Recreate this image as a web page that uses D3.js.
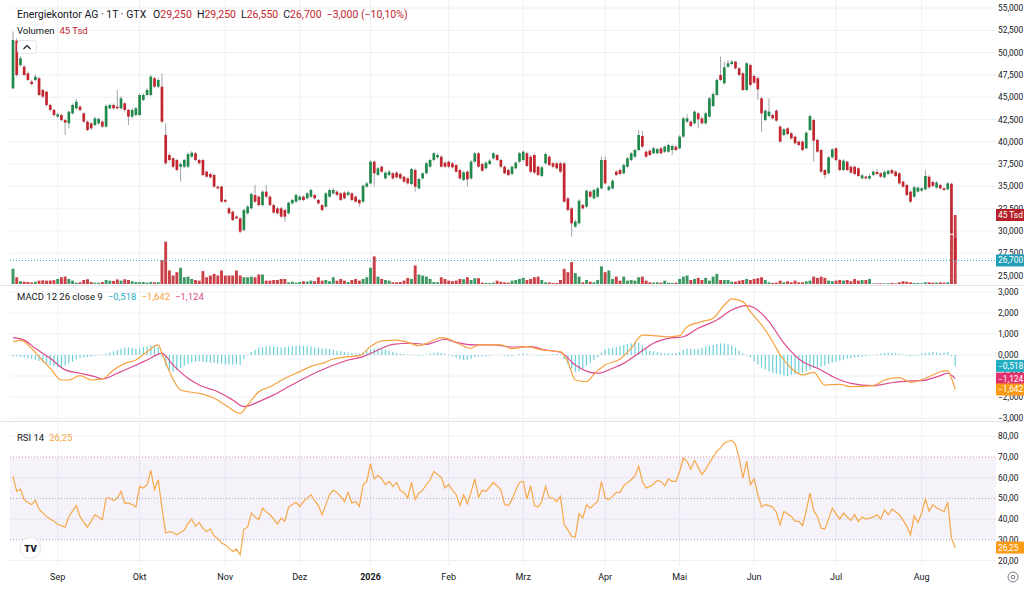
<!DOCTYPE html>
<html>
<head>
<meta charset="utf-8">
<script src="https://cdn.jsdelivr.net/npm/d3@7"></script>
<style>
  html, body { margin: 0; padding: 0; background: #fff; }
  svg { display: block; font-family: Roboto, "Liberation Sans", sans-serif; }
</style>
</head>
<body>
<svg id="chart" width="1024" height="590"></svg>
<script>
// Daily candles, 14 Aug 2025 .. 13 Aug 2026 (EUR)
const opens = [
  45.99, 51.34, 48.61, 48.42, 47.68, 46.74, 46.93, 47.12, 45.81, 45.62,
  44.13, 43.57, 42.82, 43.00, 42.44, 42.07, 43.19, 43.75, 43.94, 43.19,
  42.26, 42.07, 41.88, 42.07, 42.26, 41.70, 43.75, 44.13, 43.94, 43.75,
  44.31, 43.57, 42.82, 43.00, 43.00, 44.69, 45.25, 45.25, 47.12, 46.18,
  46.18, 40.76, 38.52, 38.15, 37.96, 37.21, 37.21, 37.21, 38.33, 38.71,
  37.96, 37.96, 36.65, 36.39, 36.28, 34.97, 34.97, 33.48, 32.54, 32.17,
  31.61, 31.42, 30.11, 31.98, 32.54, 34.04, 33.85, 32.91, 34.41, 33.85,
  32.91, 32.54, 32.54, 32.35, 31.98, 33.10, 33.29, 33.48, 33.85, 33.66,
  33.85, 34.04, 33.48, 32.91, 32.73, 33.85, 34.22, 34.41, 34.22, 34.30,
  34.04, 34.22, 33.85, 33.48, 33.29, 34.97, 35.34, 37.77, 36.28, 37.21,
  35.90, 36.28, 36.47, 36.54, 36.39, 36.09, 35.90, 35.27, 36.84, 34.78,
  35.90, 36.47, 37.21, 37.96, 38.26, 38.33, 37.66, 37.77, 37.59, 37.40,
  36.84, 35.72, 36.65, 35.90, 37.77, 38.71, 37.51, 37.03, 37.51, 38.15,
  38.52, 37.96, 37.21, 36.84, 36.39, 37.03, 37.77, 37.96, 38.71, 38.33,
  38.52, 37.21, 36.17, 37.59, 38.33, 37.59, 37.59, 37.59, 37.59, 33.66,
  32.54, 30.49, 30.86, 32.91, 32.73, 34.41, 33.66, 33.85, 34.78, 37.96,
  34.60, 34.78, 36.65, 36.84, 36.47, 37.21, 37.96, 38.33, 39.08, 40.65,
  38.89, 39.00, 38.71, 38.71, 39.27, 38.89, 38.89, 39.08, 39.46, 39.27,
  40.58, 42.26, 42.26, 42.07, 43.19, 42.63, 42.07, 42.82, 44.01, 45.25,
  47.49, 46.56, 48.42, 48.72, 48.98, 48.24, 47.68, 45.81, 48.61, 47.38,
  47.12, 44.87, 42.44, 42.89, 43.00, 43.49, 41.70, 40.76, 41.51, 40.95,
  40.58, 40.02, 40.02, 39.27, 41.32, 42.44, 40.21, 39.08, 36.84, 36.47,
  38.26, 39.27, 37.96, 36.84, 37.77, 37.21, 37.21, 37.03, 35.90, 36.09,
  35.87, 36.28, 36.62, 36.47, 36.02, 36.39, 36.84, 36.65, 36.47, 35.53,
  35.16, 34.41, 33.85, 34.41, 34.52, 34.67, 36.09, 35.49, 34.86, 35.16,
  34.78, 34.67, 35.30, 29.25
];
const highs = [
  52.35, 51.60, 49.60, 48.60, 47.85, 46.95, 47.55, 47.30, 45.95, 45.70,
  44.30, 43.70, 43.30, 43.15, 42.60, 43.50, 44.30, 44.80, 44.10, 43.30,
  42.40, 42.20, 42.80, 42.75, 42.40, 44.20, 44.30, 44.30, 45.81, 45.10,
  44.45, 43.70, 43.75, 43.90, 45.40, 45.45, 46.00, 47.50, 47.30, 47.10,
  47.68, 42.07, 38.70, 38.30, 38.10, 37.70, 38.10, 38.80, 38.95, 38.85,
  38.10, 38.10, 36.80, 36.55, 36.40, 35.10, 35.10, 33.60, 32.70, 32.30,
  31.75, 31.55, 32.50, 32.90, 34.30, 35.16, 34.00, 34.55, 35.16, 34.00,
  33.05, 32.70, 32.70, 32.50, 33.30, 33.60, 34.20, 34.00, 34.00, 34.35,
  34.75, 34.20, 33.60, 33.05, 34.35, 34.75, 34.80, 34.55, 34.35, 34.45,
  34.50, 34.35, 34.00, 33.60, 35.20, 35.50, 37.95, 37.90, 37.20, 37.35,
  36.70, 36.85, 36.60, 36.70, 36.55, 36.20, 36.05, 37.10, 37.00, 36.00,
  36.60, 37.75, 38.10, 38.85, 38.70, 38.50, 37.80, 37.90, 37.75, 37.55,
  37.00, 36.75, 36.80, 37.95, 38.85, 38.85, 37.65, 37.80, 38.05, 38.85,
  38.65, 38.10, 37.35, 37.00, 37.35, 37.80, 38.85, 39.05, 38.90, 38.50,
  38.70, 37.35, 37.30, 38.80, 38.50, 37.75, 37.75, 37.75, 37.75, 33.80,
  32.70, 31.25, 33.55, 33.05, 34.65, 34.55, 34.75, 34.95, 38.35, 38.35,
  35.15, 35.80, 36.80, 37.00, 37.55, 38.30, 38.85, 39.25, 41.32, 41.20,
  39.05, 39.15, 39.45, 39.35, 39.45, 39.60, 39.80, 39.70, 39.60, 40.75,
  42.80, 43.10, 42.40, 43.55, 43.35, 42.80, 43.35, 45.05, 45.55, 47.10,
  49.55, 48.98, 49.17, 49.15, 49.10, 48.40, 47.85, 48.95, 48.75, 47.55,
  47.30, 45.00, 43.65, 44.87, 43.15, 43.65, 41.85, 41.55, 41.65, 41.10,
  40.70, 40.15, 40.15, 41.15, 43.05, 42.60, 40.35, 39.20, 36.95, 38.40,
  39.30, 39.40, 38.10, 38.05, 37.90, 37.35, 37.35, 37.15, 36.40, 36.20,
  36.40, 36.80, 36.95, 36.60, 36.80, 36.90, 36.95, 36.80, 36.60, 35.65,
  35.30, 34.55, 35.05, 35.00, 34.95, 36.84, 36.25, 35.65, 35.60, 35.30,
  34.90, 35.50, 35.40, 29.25
];
const lows = [
  45.90, 47.30, 48.40, 47.35, 46.80, 46.30, 46.80, 45.10, 44.90, 43.95,
  43.40, 42.85, 42.65, 42.30, 40.76, 41.50, 43.05, 43.60, 43.40, 42.10,
  41.20, 41.35, 41.75, 41.90, 41.55, 41.60, 43.60, 43.60, 43.60, 43.60,
  43.40, 41.88, 42.65, 42.85, 42.90, 44.55, 45.10, 45.10, 46.00, 46.00,
  42.10, 37.40, 37.80, 37.05, 36.70, 35.53, 37.05, 37.05, 38.20, 37.80,
  37.45, 36.15, 35.95, 35.90, 34.85, 34.65, 33.15, 33.15, 31.85, 31.10,
  31.30, 29.74, 29.95, 31.85, 32.40, 33.15, 32.75, 32.75, 33.70, 32.75,
  31.95, 31.85, 31.50, 31.05, 31.85, 32.95, 33.15, 33.35, 33.35, 33.55,
  33.70, 33.55, 32.95, 32.20, 32.60, 33.70, 34.10, 33.90, 33.35, 33.55,
  33.90, 33.35, 33.15, 32.73, 33.15, 34.85, 35.20, 34.97, 36.15, 36.50,
  35.75, 36.15, 35.75, 35.90, 35.75, 35.40, 35.20, 35.15, 34.41, 34.65,
  35.75, 36.35, 37.10, 37.80, 38.10, 37.10, 37.05, 37.05, 37.00, 36.50,
  35.75, 35.60, 34.97, 35.75, 37.65, 37.05, 36.60, 36.90, 37.40, 38.00,
  37.80, 37.05, 36.35, 36.15, 36.25, 36.90, 37.65, 37.80, 37.15, 36.50,
  36.40, 36.15, 36.05, 37.45, 37.25, 37.05, 36.90, 36.50, 33.15, 32.20,
  29.37, 30.35, 30.70, 32.40, 32.60, 33.70, 33.55, 33.70, 34.65, 35.20,
  34.45, 34.65, 36.15, 36.25, 36.35, 37.10, 37.80, 38.20, 38.95, 39.30,
  38.20, 38.40, 38.60, 38.60, 38.60, 38.75, 38.75, 38.50, 38.95, 39.15,
  40.45, 42.10, 41.65, 41.95, 41.51, 41.95, 41.95, 42.70, 43.90, 45.10,
  46.80, 46.40, 48.30, 48.60, 48.10, 47.35, 45.70, 45.70, 46.20, 46.50,
  44.69, 41.14, 42.30, 42.75, 42.50, 42.25, 39.90, 40.65, 40.75, 40.25,
  39.70, 39.50, 38.95, 39.15, 41.20, 37.77, 38.75, 36.50, 35.90, 36.35,
  38.10, 37.80, 36.70, 36.70, 36.70, 36.40, 36.25, 36.05, 35.80, 35.80,
  35.75, 36.15, 36.25, 35.95, 35.90, 36.25, 36.35, 36.05, 35.20, 34.85,
  33.90, 33.15, 33.70, 34.30, 34.40, 34.55, 34.75, 34.90, 34.75, 34.65,
  34.50, 34.55, 29.60, 26.55
];
const closes = [
  51.41, 47.49, 49.36, 47.49, 46.93, 46.48, 47.30, 45.25, 45.06, 44.13,
  43.57, 43.00, 43.08, 42.44, 42.15, 43.38, 44.13, 44.50, 43.57, 42.26,
  41.32, 41.51, 42.63, 42.56, 41.70, 44.01, 44.13, 43.75, 43.75, 44.87,
  43.57, 42.82, 43.57, 43.75, 45.25, 45.25, 45.81, 47.30, 46.18, 46.93,
  42.26, 37.59, 37.96, 37.21, 36.84, 37.51, 37.96, 38.63, 38.78, 37.96,
  37.59, 36.28, 36.09, 36.02, 34.97, 34.78, 33.29, 33.29, 31.98, 31.23,
  31.42, 29.93, 32.35, 32.73, 34.15, 33.29, 32.91, 34.41, 33.85, 32.91,
  32.06, 31.98, 31.61, 31.61, 33.18, 33.48, 34.04, 33.85, 33.48, 34.22,
  34.60, 33.66, 33.10, 32.35, 34.22, 34.60, 34.60, 34.04, 33.48, 33.66,
  34.33, 33.48, 33.29, 33.10, 35.08, 35.34, 37.77, 36.47, 37.03, 36.65,
  36.54, 36.65, 35.90, 36.02, 35.90, 35.53, 35.34, 36.95, 34.97, 35.83,
  36.47, 37.59, 37.96, 38.71, 38.52, 37.21, 37.21, 37.21, 37.14, 36.65,
  35.90, 36.58, 35.79, 37.77, 38.71, 37.21, 36.76, 37.66, 37.89, 38.71,
  37.96, 37.21, 36.47, 36.28, 37.21, 37.66, 38.71, 38.89, 37.29, 36.65,
  36.54, 36.28, 37.14, 38.63, 37.40, 37.21, 37.03, 36.65, 33.29, 32.35,
  30.86, 31.05, 33.40, 32.54, 34.52, 33.85, 34.60, 34.78, 37.96, 35.34,
  34.97, 35.64, 36.28, 36.39, 37.40, 38.15, 38.71, 39.08, 40.76, 39.46,
  38.33, 38.52, 39.27, 39.19, 38.71, 39.46, 39.64, 39.53, 39.08, 40.58,
  42.63, 42.63, 41.77, 43.38, 42.52, 42.07, 43.19, 44.87, 45.36, 46.93,
  46.93, 48.35, 48.80, 48.98, 48.24, 47.49, 45.81, 48.80, 46.37, 46.63,
  45.88, 43.19, 43.49, 43.38, 42.63, 42.37, 40.02, 41.40, 40.87, 40.39,
  39.83, 39.64, 39.08, 41.02, 42.89, 40.13, 38.89, 36.65, 36.28, 38.26,
  39.15, 37.96, 36.84, 37.89, 36.84, 36.54, 36.39, 36.17, 36.24, 35.90,
  36.17, 36.65, 36.39, 36.09, 36.62, 36.76, 36.47, 36.17, 35.34, 34.97,
  34.04, 33.29, 34.90, 34.86, 34.78, 36.17, 34.90, 35.05, 35.42, 34.78,
  34.60, 35.34, 29.70, 26.70
];
// volume in thousands of shares
const volumesTsd = [
  10, 4.4, 1.8, 1.5, 1.3, 1.0, 1.5, 2.2, 2.4, 2.2,
  2.3, 2.5, 3.3, 4.4, 4.8, 3.3, 2.2, 0.9, 1.1, 2.6,
  3.1, 1.3, 0.9, 0.8, 1.3, 2.6, 2.2, 2.0, 3.0, 2.2,
  3.1, 2.6, 1.8, 1.3, 1.2, 1.3, 0.9, 1.3, 1.1, 1.2,
  15.5, 27.6, 8.8, 5.5, 7.7, 10.6, 4.4, 4.8, 3.3, 2.6,
  2.2, 8.4, 4.4, 5.5, 6.6, 5.5, 8.8, 5.5, 5.5, 5.5,
  8.8, 5.5, 4.4, 4.4, 4.8, 4.4, 6.2, 6.2, 2.2, 2.2,
  2.6, 2.6, 3.3, 3.3, 1.1, 1.5, 0.9, 1.3, 1.8, 1.5,
  2.2, 1.8, 4.4, 2.2, 2.6, 1.8, 4.4, 2.2, 3.3, 2.2,
  1.3, 2.6, 3.3, 2.2, 3.3, 4.4, 10.6, 18, 4.8, 3.3,
  2.6, 2.2, 1.1, 1.1, 1.3, 2.2, 4.0, 3.3, 12.1, 6.2,
  5.5, 4.8, 3.3, 1.3, 1.1, 4.4, 3.3, 2.2, 1.8, 2.2,
  3.3, 3.1, 4.4, 2.6, 3.8, 3.8, 0.9, 0.7, 0.7, 0.9,
  2.2, 1.5, 1.1, 0.9, 2.2, 2.6, 3.3, 4.0, 2.6, 3.3,
  4.4, 4.8, 2.6, 1.1, 1.1, 0.7, 0.7, 2.6, 9.9, 7.7,
  14.3, 7.1, 4.8, 1.1, 2.6, 1.5, 1.1, 2.6, 11.5, 7.7,
  8.8, 3.3, 4.8, 2.2, 4.8, 2.2, 2.6, 2.2, 4.4, 4.8,
  2.2, 1.1, 0.9, 1.1, 0.9, 2.2, 0.9, 0.7, 0.9, 3.3,
  4.8, 5.5, 2.6, 3.3, 4.0, 2.6, 4.0, 2.2, 4.8, 6.6,
  2.6, 2.6, 2.6, 1.5, 1.5, 2.2, 2.6, 3.3, 2.6, 3.3,
  3.8, 4.4, 2.6, 1.1, 0.7, 0.9, 2.2, 1.1, 1.8, 1.1,
  2.2, 1.1, 1.1, 1.8, 2.2, 4.8, 4.0, 4.8, 4.0, 2.2,
  1.8, 2.2, 2.6, 2.2, 2.6, 1.8, 3.3, 2.2, 2.6, 2.6,
  3.3, 0.4, 0.4, 0.5, 0.4, 0.5, 0.7, 0.4, 1.1, 1.8,
  1.5, 1.1, 0.7, 0.7, 0.5, 1.1, 1.1, 0.9, 0.9, 1.1,
  0.9, 1.1, 32, 45
];
// MACD 12 26 9: [bar index, value]
const macdPoints = [
  [0, 0.63], [2, 0.71], [5, 0.32], [7, -0.08], [10, -0.63], [13, -1.19], [15, -1.19], [18, -0.98],
  [21, -1.19], [24, -1.14], [27, -0.71], [30, -0.40], [33, -0.24], [36, 0.16], [39, 0.48], [40, 0.08],
  [42, -0.79], [45, -1.67], [47, -1.75], [50, -1.83], [54, -2.06], [57, -2.38], [61, -2.78], [63, -2.38],
  [66, -1.75], [69, -1.51], [73, -1.11], [77, -0.79], [81, -0.48], [83, -0.40], [86, -0.19], [90, -0.08],
  [93, -0.03], [96, 0.40], [99, 0.67], [103, 0.71], [106, 0.60], [109, 0.44], [112, 0.63], [115, 0.83],
  [117, 0.76], [120, 0.51], [123, 0.32], [125, 0.48], [131, 0.48], [134, 0.30], [138, 0.40], [142, 0.24],
  [147, 0.16], [149, -0.32], [151, -1.19], [154, -1.27], [156, -0.92], [159, -0.48], [163, -0.19], [166, 0.32],
  [169, 0.95], [172, 0.92], [176, 0.87], [179, 0.92], [181, 1.35], [185, 1.59], [188, 1.75], [191, 2.38],
  [193, 2.67], [196, 2.54], [198, 2.06], [201, 1.43], [204, 0.63], [206, 0.00], [209, -0.63], [212, -0.95],
  [215, -0.83], [218, -1.43], [222, -1.40], [225, -1.51], [231, -1.46], [234, -1.19], [238, -1.08], [241, -1.30],
  [245, -1.11], [248, -0.87], [250, -0.76], [251, -0.76], [252, -1.11], [253, -1.642]
];
const signalPoints = [
  [0, 0.83], [3, 0.71], [6, 0.32], [10, -0.16], [14, -0.71], [18, -0.87], [22, -1.03], [24, -1.14],
  [28, -0.87], [32, -0.56], [36, -0.24], [40, 0.08], [43, -0.48], [47, -1.11], [50, -1.43], [55, -1.75],
  [59, -2.14], [62, -2.46], [66, -2.22], [70, -1.90], [74, -1.51], [80, -0.95], [84, -0.63], [90, -0.24],
  [94, -0.08], [98, 0.24], [102, 0.51], [107, 0.56], [111, 0.51], [116, 0.75], [119, 0.60], [124, 0.48],
  [129, 0.48], [134, 0.38], [139, 0.40], [143, 0.24], [147, 0.13], [151, -0.48], [155, -0.83], [157, -0.87],
  [161, -0.63], [164, -0.40], [168, 0.08], [172, 0.56], [176, 0.79], [180, 0.87], [184, 1.27], [189, 1.67],
  [193, 2.14], [197, 2.35], [199, 2.25], [203, 1.59], [207, 0.56], [212, -0.32], [216, -0.63], [221, -1.11],
  [225, -1.35], [231, -1.46], [235, -1.35], [240, -1.24], [244, -1.22], [249, -0.98], [251, -0.87], [253, -1.124]
];
const histValues = [
  -0.05, -0.06, -0.08, -0.12, -0.15, -0.18, -0.22, -0.28, -0.35, -0.42,
  -0.48, -0.52, -0.58, -0.60, -0.50, -0.40, -0.32, -0.22, -0.15, -0.12,
  -0.10, -0.08, -0.05, -0.02, 0.02, 0.06, 0.12, 0.18, 0.24, 0.30,
  0.34, 0.36, 0.33, 0.30, 0.32, 0.38, 0.42, 0.46, 0.44, 0.38,
  -0.10, -0.50, -0.72, -0.80, -0.72, -0.62, -0.50, -0.42, -0.35, -0.32,
  -0.30, -0.32, -0.34, -0.36, -0.38, -0.40, -0.42, -0.44, -0.45, -0.46,
  -0.45, -0.48, -0.20, -0.02, 0.15, 0.25, 0.34, 0.38, 0.40, 0.42,
  0.40, 0.38, 0.36, 0.37, 0.40, 0.42, 0.44, 0.45, 0.44, 0.42,
  0.40, 0.36, 0.34, 0.30, 0.32, 0.28, 0.24, 0.20, 0.18, 0.15,
  0.12, 0.10, 0.08, 0.06, 0.10, 0.18, 0.28, 0.30, 0.32, 0.28,
  0.24, 0.20, 0.16, 0.10, 0.06, 0.04, 0.02, 0.02, -0.02, -0.04,
  -0.02, 0.02, 0.06, 0.10, 0.12, 0.10, 0.06, 0.02, -0.06, -0.14,
  -0.20, -0.24, -0.22, -0.18, -0.10, -0.06, -0.08, -0.06, -0.04, 0.00,
  0.02, 0.00, -0.04, -0.06, -0.04, 0.00, 0.04, 0.06, 0.05, 0.02,
  0.00, -0.02, -0.04, -0.02, 0.02, 0.04, 0.06, 0.04, -0.20, -0.45,
  -0.65, -0.80, -0.78, -0.65, -0.50, -0.40, -0.25, -0.10, 0.12, 0.28,
  0.32, 0.35, 0.38, 0.42, 0.48, 0.52, 0.55, 0.60, 0.58, 0.45,
  0.30, 0.20, 0.16, 0.14, 0.10, 0.08, 0.10, 0.08, 0.10, 0.14,
  0.25, 0.30, 0.30, 0.28, 0.28, 0.34, 0.40, 0.44, 0.48, 0.52,
  0.55, 0.56, 0.52, 0.45, 0.35, 0.20, 0.08, 0.02, -0.12, -0.30,
  -0.45, -0.60, -0.70, -0.78, -0.85, -0.90, -0.95, -0.98, -1.00, -0.95,
  -0.92, -0.88, -0.85, -0.78, -0.70, -0.62, -0.58, -0.55, -0.50, -0.42,
  -0.36, -0.30, -0.26, -0.22, -0.18, -0.15, -0.12, -0.10, -0.08, -0.05,
  -0.03, 0.00, 0.04, 0.08, 0.10, 0.12, 0.12, 0.10, 0.06, 0.02,
  -0.04, -0.06, -0.04, -0.02, 0.06, 0.10, 0.12, 0.14, 0.12, 0.10,
  0.12, 0.14, -0.05, -0.518
];
const rsiValues = [
  60.6, 53.4, 54.5, 49.4, 48.0, 47.0, 49.0, 44.8, 43.0, 41.3,
  40.0, 38.9, 37.5, 36.8, 36.1, 41.3, 44.0, 46.5, 41.3, 38.5,
  36.1, 39.0, 42.1, 41.0, 39.7, 50.2, 50.2, 49.0, 50.0, 53.4,
  47.7, 47.7, 47.0, 45.8, 55.8, 55.0, 56.6, 63.5, 54.2, 59.0,
  45.3, 33.2, 34.0, 33.5, 32.4, 33.5, 34.8, 38.0, 40.0, 36.5,
  38.4, 35.5, 34.0, 35.2, 31.9, 30.5, 28.4, 27.6, 26.0, 24.4,
  25.5, 22.7, 35.2, 36.1, 42.9, 41.0, 39.7, 45.3, 43.5, 42.1,
  40.0, 37.7, 40.5, 38.9, 45.8, 47.0, 48.1, 46.1, 48.5, 50.0,
  51.8, 49.0, 46.5, 42.1, 47.0, 51.8, 53.9, 52.9, 51.0, 48.5,
  52.9, 47.7, 48.5, 46.1, 56.6, 58.2, 66.8, 59.4, 61.0, 59.5,
  56.6, 58.2, 55.8, 57.7, 53.9, 52.9, 50.2, 57.7, 49.4, 52.6,
  54.0, 56.6, 59.0, 63.0, 61.5, 60.3, 55.0, 56.6, 54.0, 51.8,
  46.5, 51.8, 47.4, 53.0, 59.4, 50.6, 53.9, 53.4, 55.5, 57.7,
  56.0, 54.2, 47.0, 46.5, 49.4, 54.0, 57.7, 58.2, 49.7, 56.1,
  46.5, 45.8, 48.5, 55.8, 50.2, 50.2, 48.5, 51.0, 37.3, 34.8,
  31.6, 31.3, 42.6, 40.5, 47.0, 45.3, 47.0, 48.5, 58.2, 50.2,
  49.4, 51.0, 52.9, 52.9, 56.1, 57.5, 59.0, 61.0, 65.5, 58.2,
  55.0, 55.8, 57.0, 58.7, 58.2, 56.1, 59.4, 58.2, 58.2, 63.0,
  69.5, 67.9, 64.2, 68.4, 65.0, 61.5, 64.0, 67.1, 70.0, 72.7,
  74.4, 76.8, 77.5, 78.1, 76.0, 69.5, 59.8, 67.9, 56.6, 59.4,
  52.0, 45.8, 47.0, 46.5, 45.8, 43.2, 37.3, 43.7, 42.5, 41.3,
  38.9, 38.9, 36.8, 44.0, 52.6, 44.2, 41.3, 35.6, 35.2, 40.0,
  45.3, 42.5, 40.0, 42.9, 41.0, 39.4, 42.1, 38.9, 41.0, 40.0,
  40.5, 41.0, 42.1, 40.0, 44.5, 42.1, 44.8, 43.5, 42.1, 39.5,
  36.5, 32.4, 41.6, 38.4, 42.9, 49.7, 43.7, 47.0, 45.5, 44.5,
  43.7, 48.1, 30.8, 26.25
];
// x axis: first trading day of each month
const monthLabels = ["Sep", "Okt", "Nov", "Dez", "2026", "Feb", "Mrz", "Apr", "Mai", "Jun", "Jul", "Aug"];
const monthStarts = [12, 34, 57, 77, 96, 117, 137, 159, 179, 199, 221, 244];
const priceTicks = [55, 52.5, 50, 47.5, 45, 42.5, 40, 37.5, 35, 32.5, 30, 27.5, 25];
const macdTicks = [3, 2, 1, 0, -1, -2, -3];
const rsiTicks = [80, 70, 60, 50, 40, 30, 20];

const upColor = "#22894c";
const downColor = "#c3262e";
const wickColor = "#a0a4aa";
const gridColor = "#eef0f4";
const textColor = "#131722";
const macdColor = "#f6a240";
const signalColor = "#dc4a90";
const histColor = "#6ccfdc";
const rsiColor = "#f6a84a";

const plotL = 10, plotR = 996;
const last = closes.length - 1;
const bars = d3.range(closes.length);

const de = d3.formatLocale({ decimal: ",", thousands: ".", grouping: [3], currency: ["", ""], minus: "\u2212" });
const f3 = de.format(".3f");
const f2 = de.format(".2f");

const svg = d3.select("#chart");

const x = d3.scaleLinear().domain([0, last]).range([13, 955.2]);
const yPrice = d3.scaleLinear().domain([25, 55]).range([275.6, 8]);
const yVol = d3.scaleLinear().domain([0, 45]).range([284, 215]);
const yMacd = d3.scaleLinear().domain([-3, 3]).range([418, 292]);
const yRsi = d3.scaleLinear().domain([20, 80]).range([560.5, 436.3]);

const isUp = (i) => closes[i] >= opens[i];

// vertical grid through all panes
svg.append("g")
  .selectAll("line")
  .data(monthStarts)
  .enter().append("line")
  .attr("x1", (d) => x(d)).attr("x2", (d) => x(d))
  .attr("y1", 0).attr("y2", 566)
  .attr("stroke", gridColor);

// horizontal grids
const hGrid = (ticks, scale) => {
  svg.append("g")
    .selectAll("line")
    .data(ticks)
    .enter().append("line")
    .attr("x1", plotL).attr("x2", plotR)
    .attr("y1", (d) => scale(d)).attr("y2", (d) => scale(d))
    .attr("stroke", gridColor);
};
hGrid(priceTicks, yPrice);
hGrid(macdTicks, yMacd);
hGrid([80, 60, 40, 20], yRsi);

// pane separators
svg.append("g")
  .selectAll("line")
  .data([285.5, 421.5])
  .enter().append("line")
  .attr("x1", 0).attr("x2", 1024)
  .attr("y1", (d) => d).attr("y2", (d) => d)
  .attr("stroke", "#e2e4ea");

// ---- price pane ----
const gPrice = svg.append("g");

gPrice.append("g")
  .selectAll("rect")
  .data(bars)
  .enter().append("rect")
  .attr("x", (i) => x(i) - 1.45)
  .attr("width", 2.9)
  .attr("y", (i) => yVol(volumesTsd[i]))
  .attr("height", (i) => yVol(0) - yVol(volumesTsd[i]))
  .attr("fill", (i) => isUp(i) ? upColor : downColor)
  .attr("opacity", 0.88);

const candle = gPrice.append("g")
  .selectAll("g")
  .data(bars)
  .enter().append("g");

candle.append("line")
  .attr("x1", (i) => x(i)).attr("x2", (i) => x(i))
  .attr("y1", (i) => yPrice(highs[i]))
  .attr("y2", (i) => yPrice(lows[i]))
  .attr("stroke", wickColor);

candle.append("rect")
  .attr("x", (i) => x(i) - 1.35)
  .attr("width", 2.7)
  .attr("y", (i) => yPrice(Math.max(opens[i], closes[i])))
  .attr("height", (i) => Math.max(1, Math.abs(yPrice(opens[i]) - yPrice(closes[i]))))
  .attr("fill", (i) => isUp(i) ? upColor : downColor);

// last price line
gPrice.append("line")
  .attr("x1", plotL).attr("x2", plotR)
  .attr("y1", yPrice(closes[last])).attr("y2", yPrice(closes[last]))
  .attr("stroke", "#2aa3bb")
  .attr("stroke-dasharray", "1,2");

// ---- MACD pane ----
const gMacd = svg.append("g");

gMacd.append("g")
  .selectAll("rect")
  .data(bars)
  .enter().append("rect")
  .attr("x", (i) => x(i) - 0.6)
  .attr("width", 1.2)
  .attr("y", (i) => Math.min(yMacd(0), yMacd(histValues[i])))
  .attr("height", (i) => Math.abs(yMacd(histValues[i]) - yMacd(0)))
  .attr("fill", histColor);

const lineGen = (scale) => d3.line()
  .x((d) => x(d[0]))
  .y((d) => scale(d[1]))
  .curve(d3.curveMonotoneX);

gMacd.append("path")
  .datum(signalPoints)
  .attr("d", lineGen(yMacd))
  .attr("fill", "none")
  .attr("stroke", signalColor)
  .attr("stroke-width", 1.2);

gMacd.append("path")
  .datum(macdPoints)
  .attr("d", lineGen(yMacd))
  .attr("fill", "none")
  .attr("stroke", macdColor)
  .attr("stroke-width", 1.2);

// ---- RSI pane ----
const gRsi = svg.append("g");

gRsi.append("rect")
  .attr("x", plotL).attr("width", plotR - plotL)
  .attr("y", yRsi(70)).attr("height", yRsi(30) - yRsi(70))
  .attr("fill", "#7e57c2")
  .attr("opacity", 0.08);

gRsi.append("g")
  .selectAll("line")
  .data([70, 50, 30])
  .enter().append("line")
  .attr("x1", plotL).attr("x2", plotR)
  .attr("y1", (d) => yRsi(d)).attr("y2", (d) => yRsi(d))
  .attr("stroke", (d) => d === 70 ? "#d99aaa" : "#a4a7b0")
  .attr("stroke-dasharray", "1,2");

gRsi.append("path")
  .datum(rsiValues)
  .attr("d", d3.line().x((d, i) => x(i)).y((d) => yRsi(d)))
  .attr("fill", "none")
  .attr("stroke", rsiColor)
  .attr("stroke-width", 1.2);

// ---- right axis labels ----
const axisLabels = (ticks, scale, fmt) => {
  svg.append("g")
    .selectAll("text")
    .data(ticks)
    .enter().append("text")
    .attr("x", 998)
    .attr("y", (d) => scale(d) + 3)
    .attr("font-size", 8.4)
    .attr("fill", textColor)
    .text((d) => fmt(d));
};
axisLabels(priceTicks, yPrice, f3);
axisLabels(macdTicks, yMacd, f3);
axisLabels(rsiTicks, yRsi, f2);

const tag = (yc, label, fill) => {
  svg.append("rect")
    .attr("x", 996).attr("y", yc - 6)
    .attr("width", 28).attr("height", 12)
    .attr("fill", fill);
  svg.append("text")
    .attr("x", 998).attr("y", yc + 3)
    .attr("font-size", 8.4)
    .attr("fill", "#fff")
    .text(label);
};
tag(yVol(volumesTsd[last]), `${volumesTsd[last]} Tsd`, "#b5202a");
tag(yPrice(closes[last]), f3(closes[last]), "#1f9db6");
tag(yMacd(histValues[last]), f3(histValues[last]), "#22adc2");
tag(yMacd(signalPoints[signalPoints.length - 1][1]), f3(signalPoints[signalPoints.length - 1][1]), "#e2306f");
tag(yMacd(macdPoints[macdPoints.length - 1][1]), f3(macdPoints[macdPoints.length - 1][1]), "#fb9a14");
tag(yRsi(rsiValues[last]), f2(rsiValues[last]), "#fb9a14");

// ---- x axis ----
svg.append("g")
  .selectAll("text")
  .data(monthStarts)
  .enter().append("text")
  .attr("x", (d) => x(d))
  .attr("y", 580)
  .attr("text-anchor", "middle")
  .attr("font-size", 9)
  .attr("font-weight", (d, i) => monthLabels[i] === "2026" ? "bold" : "normal")
  .attr("fill", textColor)
  .text((d, i) => monthLabels[i]);

// ---- legends ----
const red = "#c3262e";
const change = closes[last] - closes[last - 1];
const pct = change / closes[last - 1] * 100;

const header = svg.append("text")
  .attr("x", 17).attr("y", 18)
  .attr("font-size", 10.5)
  .attr("fill", textColor);
header.append("tspan").text("Energiekontor AG \u00b7 1T \u00b7 GTX");
[["O", opens[last]], ["H", highs[last]], ["L", lows[last]], ["C", closes[last]]].forEach((d, k) => {
  header.append("tspan").attr("dx", k === 0 ? 7 : 5).text(d[0]);
  header.append("tspan").attr("fill", red).text(f3(d[1]));
});
header.append("tspan").attr("dx", 5).attr("fill", red)
  .text(`${f3(change)} (${f2(pct)}%)`);

const volLegend = svg.append("text")
  .attr("x", 17).attr("y", 34)
  .attr("font-size", 9.5)
  .attr("fill", textColor);
volLegend.append("tspan").text("Volumen");
volLegend.append("tspan").attr("dx", 5).attr("fill", red).text(`${volumesTsd[last]} Tsd`);

const macdLegend = svg.append("text")
  .attr("x", 17).attr("y", 300)
  .attr("font-size", 9.5)
  .attr("fill", textColor);
macdLegend.append("tspan").text("MACD 12 26 close 9");
macdLegend.append("tspan").attr("dx", 5).attr("fill", "#22adc2").text(f3(histValues[last]));
macdLegend.append("tspan").attr("dx", 5).attr("fill", macdColor).text(f3(macdPoints[macdPoints.length - 1][1]));
macdLegend.append("tspan").attr("dx", 5).attr("fill", signalColor).text(f3(signalPoints[signalPoints.length - 1][1]));

const rsiLegend = svg.append("text")
  .attr("x", 17).attr("y", 441)
  .attr("font-size", 9.5)
  .attr("fill", textColor);
rsiLegend.append("tspan").text("RSI 14");
rsiLegend.append("tspan").attr("dx", 5).attr("fill", rsiColor).text(f2(rsiValues[last]));

// collapse button
svg.append("rect")
  .attr("x", 17.5).attr("y", 40.5).attr("width", 19).attr("height", 13).attr("rx", 3)
  .attr("fill", "#fff").attr("stroke", "#e0e3eb");
svg.append("path")
  .attr("d", "M23.5 49 L27 45.5 L30.5 49")
  .attr("fill", "none").attr("stroke", textColor).attr("stroke-width", 1.1);

// logo badge
svg.append("circle")
  .attr("cx", 30.5).attr("cy", 548).attr("r", 10.5)
  .attr("fill", "#fff").attr("stroke", "#e6e8ee");
svg.append("text")
  .attr("x", 30.5).attr("y", 551.5)
  .attr("text-anchor", "middle")
  .attr("font-size", 9.5).attr("font-weight", 900)
  .attr("fill", textColor)
  .text("TV");

// settings icon
svg.append("circle")
  .attr("cx", 1013).attr("cy", 577).attr("r", 5)
  .attr("fill", "none").attr("stroke", "#787b86");
svg.append("circle")
  .attr("cx", 1013).attr("cy", 577).attr("r", 1.8)
  .attr("fill", "none").attr("stroke", "#787b86");
</script>
</body>
</html>
